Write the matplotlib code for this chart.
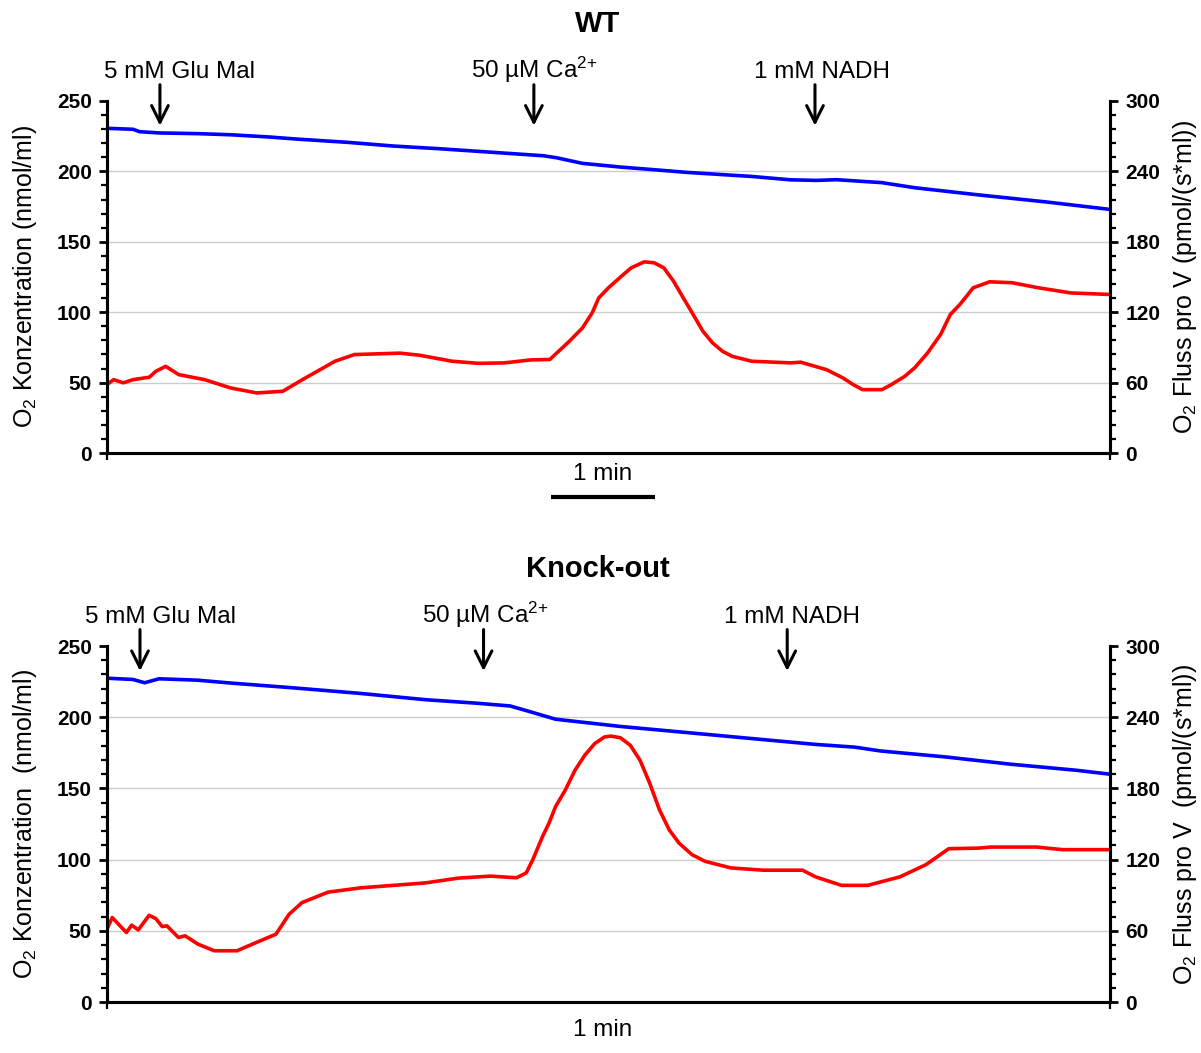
import numpy as np
import matplotlib.pyplot as plt

plt.rcParams['font.family'] = ['Liberation Sans', 'DejaVu Sans']
plt.rcParams['mathtext.fontset'] = 'custom'
plt.rcParams['mathtext.rm'] = 'Liberation Sans'
plt.rcParams['mathtext.it'] = 'Liberation Sans:italic'
plt.rcParams['mathtext.bf'] = 'Liberation Sans:bold'

# ---- data (time in s, O2 conc in nmol/ml, O2 flux in pmol/(s*ml)) ----

wt_conc_t = [0, 15, 18.8, 30, 52.5, 71.3, 93.8, 108.8, 138.9, 165.1, 191.4, 225.2,
             251.5, 259, 274, 296.5, 315.3, 334, 371.6, 394, 409, 420.4, 446.6,
             465.4, 503, 540.5, 578]
wt_conc = [230.6, 229.9, 228.2, 227.3, 226.8, 226, 224.4, 223, 220.6, 218, 216.1, 213.3,
           211.1, 209.7, 205.7, 203, 201.2, 199.3, 196.4, 194, 193.6, 194.1, 192,
           188.4, 183.2, 178.4, 173]

wt_flux_t = [0, 3.8, 9.4, 15, 24.4, 28.1, 33.8, 41.3, 56.3, 71.3, 86.3, 101.3, 112.6,
             131.4, 142.6, 168.9, 180.2, 198.9, 213.9, 228.9, 244, 255.2, 266.5, 274,
             279.6, 283.4, 289, 296.5, 302.1, 309.6, 315.3, 320.9, 326.5, 332.1, 337.8,
             343.4, 349, 354.7, 360.3, 371.6, 394, 399.7, 414.7, 424.1, 430, 435.4,
             446.6, 452, 459.8, 465.4, 472.9, 480.4, 486, 491.7, 499.2, 508.6, 521.7,
             536.7, 555.5, 578]
wt_flux = [58.3, 62.5, 59.8, 62.5, 64.6, 69.6, 73.9, 66.8, 62.5, 55.4, 51.2, 52.6, 62.5,
           78.2, 83.9, 85.1, 83.3, 78.2, 76.4, 76.8, 79.3, 79.7, 95.3, 106.6,
           119.4, 132.2, 140.8, 150.7, 157.8, 162.9, 162.1, 157.8, 146.4, 132.2, 118,
           103.8, 93.8, 86.7, 82.4, 78.2, 76.8, 77.4, 71, 64, 58.3, 54,
           54, 58.3, 65.4, 72.5, 85.3, 101, 118, 126.9, 140.8, 145.9, 145.1,
           140.8, 136.4, 135.1]

ko_conc_t = [0, 15, 21.7, 30, 52.4, 71.2, 108.7, 146.1, 183.6, 213.5, 232.3, 243.5,
             258.5, 296, 333.5, 370.9, 408.4, 430.9, 445.8, 483.3, 520.8, 558.2, 578]
ko_conc = [227.4, 226.5, 224.2, 227, 226, 224, 220.5, 216.7, 212.3, 209.8, 207.9, 204,
           198.6, 193.5, 189.3, 185.1, 180.9, 179, 176.3, 172.1, 167, 162.8, 160]

ko_flux_t = [0, 3, 7.5, 11.2, 14.2, 18, 24.3, 28.1, 31.8, 34.5, 41.2, 45, 52.4, 61.8,
             74.9, 86.2, 97.4, 104.9, 112.4, 127.4, 146.1, 164.8, 183.6, 202.3, 221,
             236, 241.6, 245.4, 251, 254.7, 258.5, 264.1, 269.7, 275.3, 281, 286.6,
             290.3, 295.9, 301.6, 307.2, 312.8, 318.4, 324, 329.6, 337.1, 344.6,
             359.6, 378.3, 400.8, 408.3, 423.3, 438.3, 457, 472, 485.1, 502, 509.4,
             535.7, 550.7, 578]
ko_flux = [61.4, 71.2, 64.2, 58.6, 64.8, 60.8, 73.1, 70.3, 63.6, 64.2, 54.4, 55.8, 48.8, 43.2,
           43.2, 50.3, 57.2, 73.9, 83.8, 92.6, 96.2, 98.3, 100.4, 104.4, 106.1,
           104.7, 108.8, 120, 139.5, 150.7, 164.7, 178.6, 195.3, 207.9, 217.7, 223.3,
           224.1, 222.7, 216.3, 203.7, 184.2, 161.9, 145.1, 134, 124.2, 118.6,
           113, 111.1, 111.1, 105.5, 98.3, 98.3, 105.5, 115.8, 129.2, 129.7, 130.6,
           130.6, 128.4, 128.4]

additions = ['5 mM Glu Mal', '50 µM Ca$^{2{+}}$', '1 mM NADH']
wt_add_t = [30.5, 246, 408]
wt_label_t = [42, 246, 412]
ko_add_t = [19, 217, 392]
ko_label_t = [31, 218, 395]

t_max = 578
conc_max, flux_max = 250, 300


def setup_panel(ax, title, add_t, label_t, conc_label, flux_label, scale_bar):
    ax2 = ax.twinx()
    ax.set_xlim(0, t_max)
    ax.set_ylim(0, conc_max)
    ax2.set_ylim(0, flux_max)

    for y in [50, 100, 150, 200]:
        ax.axhline(y, color='#cccccc', lw=1.0, zorder=0)

    for a in (ax, ax2):
        a.spines['top'].set_visible(False)
        for s in ['left', 'right', 'bottom']:
            a.spines[s].set_linewidth(2.2)
        a.tick_params(axis='y', which='major', length=6, width=2, pad=5,
                      labelsize=15)
        a.tick_params(axis='y', which='minor', length=4, width=1.6)
    ax.set_xticks([0, t_max])
    ax.set_xticklabels([])
    ax.tick_params(axis='x', length=5, width=1.6)

    ax.set_yticks(np.arange(0, 251, 50))
    ax.set_yticks(np.arange(0, 251, 10), minor=True)
    ax2.set_yticks(np.arange(0, 301, 60))
    ax2.set_yticks(np.arange(0, 301, 12), minor=True)
    for a in (ax, ax2):
        for lab in a.get_yticklabels():
            lab.set_fontweight('bold')

    ax.set_ylabel(conc_label, fontsize=18, labelpad=13)
    ax2.set_ylabel(flux_label, fontsize=18, labelpad=8)

    ax.set_title(title, fontsize=21, fontweight='bold', pad=50, x=0.489)

    for t, tl, txt in zip(add_t, label_t, additions):
        ax.annotate('', xy=(t, 230.5), xytext=(t, 263.5), annotation_clip=False,
                    arrowprops=dict(arrowstyle='->', lw=2.2, color='black',
                                    mutation_scale=30))
        ax.text(tl, 266.5, txt, ha='center', va='baseline', fontsize=17.5,
                clip_on=False)

    if scale_bar:
        ax.text(285.8, -0.06, '1 min', transform=ax.get_xaxis_transform(),
                ha='center', va='center', fontsize=17.5)
        ax.plot([256, 316], [-0.125, -0.125], transform=ax.get_xaxis_transform(),
                color='black', lw=3, clip_on=False, solid_capstyle='butt')
    else:
        ax.text(285.8, -0.079, '1 min', transform=ax.get_xaxis_transform(),
                ha='center', va='center', fontsize=17.5)
    return ax2


fig = plt.figure(figsize=(12.01, 10.53), dpi=100)

ax_wt = fig.add_axes([0.0891, 0.5698, 0.8351, 0.3343])
ax_wt2 = setup_panel(ax_wt, 'WT', wt_add_t, wt_label_t,
                     'O$_2$ Konzentration (nmol/ml)',
                     'O$_2$ Fluss pro V (pmol/(s*ml))', True)
ax_wt.plot(wt_conc_t, wt_conc, color='#0000ff', lw=2.6, solid_joinstyle='round')
ax_wt2.plot(wt_flux_t, wt_flux, color='#ff0000', lw=2.6, solid_joinstyle='round')

ax_ko = fig.add_axes([0.0891, 0.0484, 0.8351, 0.3381])
ax_ko2 = setup_panel(ax_ko, 'Knock-out', ko_add_t, ko_label_t,
                     'O$_2$ Konzentration  (nmol/ml)',
                     'O$_2$ Fluss pro V  (pmol/(s*ml))', False)
ax_ko.plot(ko_conc_t, ko_conc, color='#0000ff', lw=2.6, solid_joinstyle='round')
ax_ko2.plot(ko_flux_t, ko_flux, color='#ff0000', lw=2.6, solid_joinstyle='round')

fig.savefig('out.png', dpi=100)
